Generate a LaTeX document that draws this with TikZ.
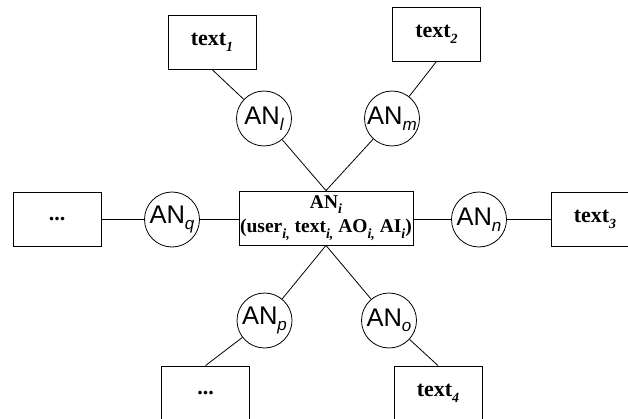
\documentclass[tikz,border=0pt]{standalone}
\usepackage{fontspec}
\setmainfont{Liberation Serif}
\newfontfamily\arialf{Liberation Sans}
\newcommand\bsub[1]{\raisebox{-0.28em}{\fontsize{14}{14}\selectfont\bfseries\itshape #1}}
\newcommand\csub[1]{\raisebox{-0.22em}{\fontsize{17}{17}\selectfont\itshape #1}}
\begin{document}
\begin{tikzpicture}[x=1pt,y=-1pt,
  box/.style={draw, line width=0.8pt, minimum width=88pt, minimum height=54pt, inner sep=0pt,
    font=\fontsize{22}{25}\selectfont\bfseries},
  an/.style={draw, circle, line width=0.8pt, minimum size=55pt, inner sep=0pt,
    font=\arialf\fontsize{25.5}{27}\selectfont},
  conn/.style={line width=0.8pt}]
\useasboundingbox (0,0) rectangle (628,419);
\clip (0,0) rectangle (628,419);
% boxes
\node[box] (t1) at (212,42) {text\bsub{1}};
\node[box] (t2) at (436.5,34) {text\bsub{2}};
\node[box] (d1) at (57,219.5) {...};
\node[box] (t3) at (595,219.5) {text\bsub{3}};
\node[box] (d2) at (205.5,393) {...};
\node[box] (t4) at (438,393) {text\bsub{4}};
% centre
\node[draw, line width=0.8pt, minimum width=174pt, minimum height=54pt, inner sep=0pt, align=center,
  font=\fontsize{19.5}{24.5}\selectfont\bfseries] (c) at (326,218)
  {AN\bsub{i}\\(user\bsub{i,} text\bsub{i,} AO\bsub{i,} AI\bsub{i})};
% circles
\node[an] (anl) at (264,118.5) {AN\csub{l}};
\node[an] (anm) at (392,118.5) {AN\csub{m}};
\node[an] (anq) at (172,219.5) {AN\csub{q}};
\node[an] (ann) at (479,219.5) {AN\csub{n}};
\node[an] (anp) at (264.5,320.5) {AN\csub{p}};
\node[an] (ano) at (389,320.5) {AN\csub{o}};
% connectors
\draw[conn] (t1.south) -- (anl);
\draw[conn] (anl) -- (c.north);
\draw[conn] (t2.south) -- (anm);
\draw[conn] (anm) -- (c.north);
\draw[conn] (d1.east) -- (anq.west);
\draw[conn] (anq.east) -- (anq.east -| c.west);
\draw[conn] (ann.west -| c.east) -- (ann.west);
\draw[conn] (ann.east) -- (ann.east -| t3.west);
\draw[conn] (c.south) -- (anp);
\draw[conn] (anp) -- (d2.north);
\draw[conn] (c.south) -- (ano);
\draw[conn] (ano) -- (t4.north);
\end{tikzpicture}
\end{document}
